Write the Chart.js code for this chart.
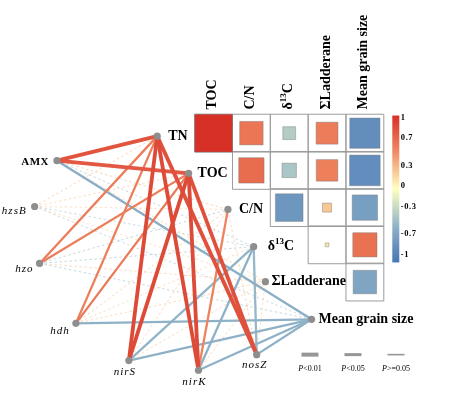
<!DOCTYPE html>
<html><head><meta charset="utf-8">
<script src="https://cdn.jsdelivr.net/npm/chart.js@4"></script>
<style>html,body{margin:0;padding:0;background:#fff}canvas{display:block}</style>
</head><body>
<canvas id="c" width="454" height="394"></canvas>
<script>
// ---------- DATA ----------
const rowVars = ["TN", "TOC", "C/N", "δ13C", "ΣLadderane"];
const colVars = ["TOC", "C/N", "δ13C", "ΣLadderane", "Mean grain size"];
// Pearson r (upper triangle, null = not shown)
const corrTN   = [1.00, 0.62, -0.34, 0.58, -0.80];
const corrTOC  = [null, 0.67, -0.38, 0.57, -0.81];
const corrCN   = [null, null, -0.73, 0.24, -0.67];
const corrD13C = [null, null, null, 0.10, 0.64];
const corrLad  = [null, null, null, null, -0.62];

const envVars  = ["TN", "TOC", "C/N", "δ13C", "ΣLadderane", "Mean grain size"];
const geneVars = ["AMX", "hzsB", "hzo", "hdh", "nirS", "nirK", "nosZ"];
// Mantel r / p for each gene vs envVars
const rAMX  = [0.80, 0.78, 0.30, -0.45, 0.28, -0.55];
const pAMX  = [0.001, 0.001, 0.20, 0.30, 0.30, 0.02];
const rHzsB = [0.32, 0.25, 0.22, -0.40, 0.20, -0.40];
const pHzsB = [0.10, 0.20, 0.30, 0.40, 0.40, 0.40];
const rHzo  = [0.58, 0.58, -0.45, -0.45, 0.28, -0.45];
const pHzo  = [0.02, 0.02, 0.20, 0.30, 0.30, 0.30];
const rHdh  = [0.58, 0.60, 0.30, 0.25, 0.28, -0.52];
const pHdh  = [0.02, 0.02, 0.20, 0.30, 0.30, 0.02];
const rNirS = [0.86, 0.86, 0.30, -0.50, 0.28, -0.52];
const pNirS = [0.001, 0.001, 0.10, 0.03, 0.20, 0.02];
const rNirK = [0.86, 0.86, 0.55, -0.52, 0.30, -0.52];
const pNirK = [0.001, 0.001, 0.03, 0.02, 0.20, 0.02];
const rNosZ = [0.82, 0.82, 0.28, -0.48, 0.25, -0.52];
const pNosZ = [0.001, 0.001, 0.20, 0.04, 0.30, 0.02];

const colorTicks = [1, 0.7, 0.3, 0, -0.3, -0.7, -1];
const pLegend = ["<0.01", "<0.05", ">=0.05"];

// ---------- LAYOUT (grid units: 1 = one matrix cell) ----------
const layout = {
  envX:  [-0.99, -0.16, 0.88, 1.56, 1.87, 3.09],
  envY:  [0.58, 1.58, 2.55, 3.55, 4.49, 5.50],
  envLabelDx: [11, 9, 11, 14, 6, 7],
  geneX: [-3.64, -4.23, -4.10, -3.14, -1.74, 0.10, 1.64],
  geneY: [1.24, 2.47, 4.00, 5.61, 6.61, 6.87, 6.45],
  // label offsets in px: [dx, dy, align]
  geneLabel: [[-8, 1, 'right'], [-8, 5, 'right'], [-6, 6, 'right'], [-6, 8, 'right'],
              [-4, 12, 'center'], [-4, 12, 'center'], [-2, 10, 'center']]
};

const corrRows = [corrTN, corrTOC, corrCN, corrD13C, corrLad];
const geneR = [rAMX, rHzsB, rHzo, rHdh, rNirS, rNirK, rNosZ];
const geneP = [pAMX, pHzsB, pHzo, pHdh, pNirS, pNirK, pNosZ];

// ---------- COLOR SCALE ----------
const stops = [[-1, [69, 117, 180]], [-0.5, [145, 180, 200]], [0, [255, 255, 191]], [0.5, [240, 140, 100]], [1, [215, 48, 39]]];
function colorRGB(v) {
  v = Math.max(-1, Math.min(1, v));
  for (let i = 0; i < stops.length - 1; i++) {
    const [a, ca] = stops[i], [b, cb] = stops[i + 1];
    if (v >= a && v <= b) {
      const t = (v - a) / (b - a);
      return ca.map((x, k) => Math.round(x + (cb[k] - x) * t));
    }
  }
  return [0, 0, 0];
}
function colorScale(v, alpha) {
  const c = colorRGB(v);
  return alpha === undefined ? `rgb(${c[0]},${c[1]},${c[2]})` : `rgba(${c[0]},${c[1]},${c[2]},${alpha})`;
}

// ---------- DATASETS ----------
const cellPts = [], gridPts = [];
corrRows.forEach((row, i) => row.forEach((v, j) => {
  if (v === null) return;
  gridPts.push({ x: j + 0.5, y: i + 0.5 });
  cellPts.push({ x: j + 0.5, y: i + 0.5, r: v });
}));

function cellPx(chart) {
  const s = chart.scales.x;
  return s.getPixelForValue(1) - s.getPixelForValue(0);
}

const datasets = [];
// nodes
const nodePts = [];
envVars.forEach((e, i) => nodePts.push({ x: layout.envX[i], y: layout.envY[i] }));
geneVars.forEach((g, i) => nodePts.push({ x: layout.geneX[i], y: layout.geneY[i] }));
datasets.push({ data: nodePts, pointRadius: 3.6, pointBackgroundColor: '#8e8e8e', pointBorderWidth: 0, order: 0 });
// matrix squares
datasets.push({
  data: cellPts, pointStyle: 'rect', order: 1,
  pointRadius: ctx => Math.abs(ctx.raw.r) * cellPx(ctx.chart) / Math.SQRT2,
  pointBackgroundColor: ctx => colorScale(ctx.raw.r),
  pointBorderColor: 'rgba(120,120,120,0.55)', pointBorderWidth: 0.8
});
// grid cells
datasets.push({
  data: gridPts, pointStyle: 'rect', order: 2,
  pointRadius: ctx => cellPx(ctx.chart) / Math.SQRT2,
  pointBackgroundColor: 'rgba(0,0,0,0)', pointBorderColor: '#9c9c9c', pointBorderWidth: 1
});
// mantel edges
function widthFor(p) { return p < 0.01 ? 3.8 : (p < 0.05 ? 2.3 : 0.75); }
geneVars.forEach((g, gi) => envVars.forEach((e, ei) => {
  const r = geneR[gi][ei], p = geneP[gi][ei];
  const ns = p >= 0.05;
  datasets.push({
    showLine: true, pointRadius: 0, clip: false,
    data: [{ x: layout.geneX[gi], y: layout.geneY[gi] }, { x: layout.envX[ei], y: layout.envY[ei] }],
    borderColor: ns ? colorScale(r, 0.75) : colorScale(r), borderWidth: widthFor(p),
    borderDash: ns ? [2.5, 2.5] : [],
    order: 200 - Math.round(Math.abs(r) * 50) - (p < 0.01 ? 60 : (p < 0.05 ? 30 : 0))
  });
}));

// ---------- TEXT / DECORATION PLUGIN ----------
const SERIF = '"Liberation Serif", "DejaVu Serif", serif';
function richWidth(ctx, parts) {
  let w = 0;
  parts.forEach(p => { ctx.font = p.f; w += ctx.measureText(p.t).width; });
  return w;
}
function drawRich(ctx, parts, x, y, align) {
  const w = richWidth(ctx, parts);
  let cx = align === 'right' ? x - w : (align === 'center' ? x - w / 2 : x);
  ctx.textAlign = 'left';
  parts.forEach(p => { ctx.font = p.f; ctx.fillText(p.t, cx, y + (p.dy || 0)); cx += ctx.measureText(p.t).width; });
}
function labelParts(name, size) {
  const f = `bold ${size}px ${SERIF}`;
  if (name === 'δ13C') return [{ t: 'δ', f }, { t: '13', f: `bold ${Math.round(size * 0.62)}px ${SERIF}`, dy: -size * 0.33 }, { t: 'C', f }];
  return [{ t: name, f }];
}

const decor = {
  id: 'decor',
  afterDatasetsDraw(chart) {
    const ctx = chart.ctx, sx = chart.scales.x, sy = chart.scales.y;
    ctx.save();
    ctx.fillStyle = '#000';
    ctx.textBaseline = 'middle';
    // env labels
    envVars.forEach((e, i) => {
      const px = sx.getPixelForValue(layout.envX[i]), py = sy.getPixelForValue(layout.envY[i]);
      drawRich(ctx, labelParts(e, 14), px + layout.envLabelDx[i], py, 'left');
    });
    // gene labels
    geneVars.forEach((g, i) => {
      const px = sx.getPixelForValue(layout.geneX[i]), py = sy.getPixelForValue(layout.geneY[i]);
      const [dx, dy, al] = layout.geneLabel[i];
      ctx.font = g === 'AMX' ? `bold 11px ${SERIF}` : `italic 11px ${SERIF}`;
      ctx.letterSpacing = g === 'AMX' ? '0.5px' : '1px';
      ctx.textAlign = al;
      ctx.fillText(g, px + dx, py + dy);
    });
    ctx.letterSpacing = '0px';
    // column headers (rotated)
    colVars.forEach((c, j) => {
      const px = sx.getPixelForValue(j + 0.5) - 1, py = sy.getPixelForValue(0) - 5;
      ctx.save();
      ctx.translate(px, py);
      ctx.rotate(-Math.PI / 2);
      drawRich(ctx, labelParts(c, 14), 0, 0, 'left');
      ctx.restore();
    });
    // colour bar
    const cbX = sx.getPixelForValue(colVars.length) + 8.5, cbW = 7;
    const cbTop = sy.getPixelForValue(0) + 1, cbBot = sy.getPixelForValue(4) - 1;
    const g = ctx.createLinearGradient(0, cbTop, 0, cbBot);
    for (let k = 0; k <= 20; k++) { const v = 1 - k / 10; g.addColorStop(k / 20, colorScale(v)); }
    ctx.fillStyle = g;
    ctx.fillRect(cbX, cbTop, cbW, cbBot - cbTop);
    ctx.fillStyle = '#000';
    ctx.font = `bold 8.5px ${SERIF}`;
    ctx.letterSpacing = '0.6px';
    ctx.textAlign = 'left';
    const lTop = cbTop + 2, lBot = cbBot - 8;
    colorTicks.forEach(v => {
      const y = lTop + (1 - v) / 2 * (lBot - lTop);
      ctx.fillText(String(v), cbX + cbW + 1.5, y);
    });
    ctx.letterSpacing = '0px';
    // P legend
    const lgY = sy.getPixelForValue(6.45);
    const lgX0 = sx.getPixelForValue(colVars.length - 1) - 36;
    const lgWidths = [4, 3, 1.6];
    pLegend.forEach((lab, k) => {
      const cx = lgX0 + k * 43;
      ctx.strokeStyle = '#969696';
      ctx.lineWidth = lgWidths[k];
      ctx.beginPath(); ctx.moveTo(cx - 8.5, lgY); ctx.lineTo(cx + 8.5, lgY); ctx.stroke();
      ctx.fillStyle = '#000';
      drawRich(ctx, [{ t: 'P', f: `italic 8px ${SERIF}` }, { t: lab, f: `8px ${SERIF}` }], cx, lgY + 14, 'center');
    });
    ctx.restore();
  }
};

new Chart(document.getElementById('c'), {
  type: 'scatter',
  data: { datasets },
  plugins: [decor],
  options: {
    responsive: false, animation: false, events: [],
    layout: { padding: 0 },
    plugins: { legend: { display: false }, tooltip: { enabled: false } },
    scales: {
      x: { type: 'linear', display: false, min: -5.04, max: 6.75 },
      y: { type: 'linear', display: false, reverse: true, min: -2.97, max: 7.40 }
    }
  }
});
</script>
</body></html>
